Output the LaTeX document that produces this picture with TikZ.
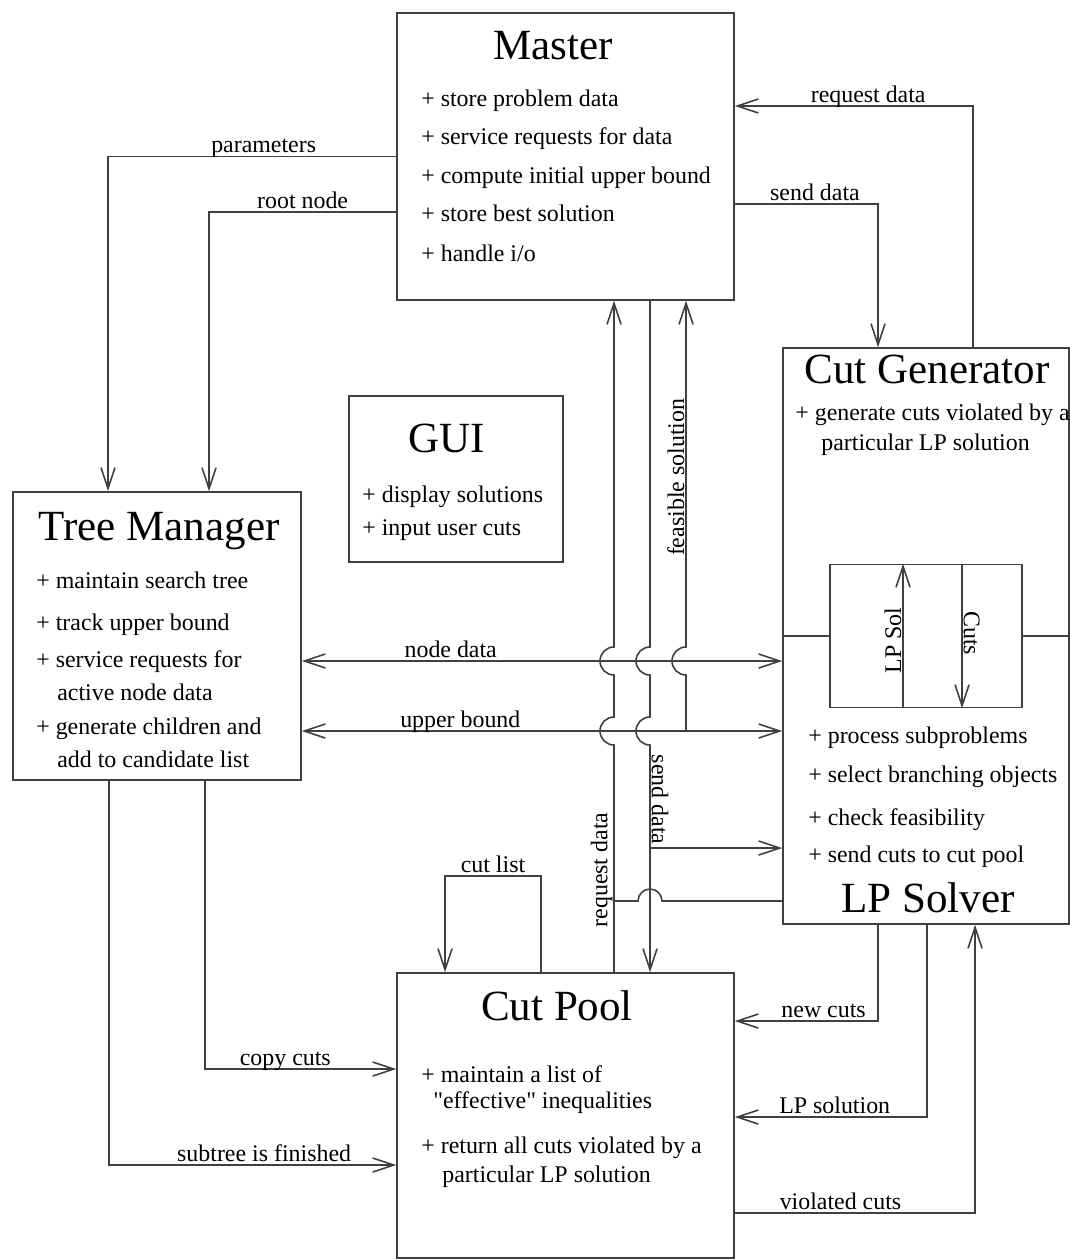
\documentclass[tikz,border=0pt]{standalone}
\usepackage{fontspec}
\setmainfont{Liberation Serif}[Ligatures=TeXOff]
\usetikzlibrary{arrows.meta}

\tikzset{
  box/.style={draw=black!75, line width=0.9pt, inner sep=0pt},
  title/.style={font=\fontsize{24.5}{28}\selectfont, anchor=base},
  item/.style={font=\fontsize{13.6}{16}\selectfont, anchor=base west, inner sep=0pt},
  lbl/.style={font=\fontsize{13.6}{16}\selectfont, inner sep=0pt, anchor=base, yshift=2pt},
  vlbl/.style={font=\fontsize{13.6}{16}\selectfont, inner sep=0.5pt, anchor=south},
  line/.style={draw=black!75, line width=0.9pt},
  flow/.style={line, ->},
  >={Straight Barb[length=12pt,width=8pt]}
}

\begin{document}
\begin{tikzpicture}[x=0.02cm, y=-0.02cm]
        \useasboundingbox (0,0) rectangle (1070,1260);

        % boxes
        \node[box, minimum width=6.74cm, minimum height=5.74cm] (master) at (565.5,156.5) {};
        \node[box, minimum width=4.28cm, minimum height=3.32cm] (gui) at (456,479) {};
        \node[box, minimum width=5.76cm, minimum height=5.76cm] (tm) at (157,636) {};
        \node[box, minimum width=5.72cm, minimum height=11.52cm] (cg) at (926,636) {};
        \node[box, minimum width=3.84cm, minimum height=2.86cm] (inner) at (926,636) {};
        \node[box, minimum width=6.74cm, minimum height=5.70cm] (cp) at (565.5,1115.5) {};

        % titles
        \node[title] (mastert) at (553,60) {Master};
        \node[title] (guit) at (447,452) {GUI};
        \node[title] (tmt) at (159,540) {Tree Manager};
        \node[title] (cgt) at (927,383) {Cut Generator};
        \node[title] (lpt) at (928,912) {LP Solver};
        \node[title] (cpt) at (557,1020) {Cut Pool};

        % box contents
        \foreach \y/\t [count=\i] in {107/{+ store problem data}, 145/{+ service requests for data},
            184/{+ compute initial upper bound}, 222/{+ store best solution}, 262/{+ handle i/o}}
          \node[item] (m\i) at (421,\y) {\t};
        \foreach \y/\t [count=\i] in {502/{+ display solutions}, 535/{+ input user cuts}}
          \node[item] (g\i) at (362,\y) {\t};
        \foreach \x/\y/\t [count=\i] in {36/588/{+ maintain search tree}, 36/630/{+ track upper bound},
            36/667/{+ service requests for}, 57/700/{active node data},
            36/734/{+ generate children and}, 57/767/{add to candidate list}}
          \node[item] (t\i) at (\x,\y) {\t};
        \node[item] (c1) at (795,420) {+ generate cuts violated by a};
        \node[item] (c2) at (821,450) {particular LP solution};
        \foreach \y/\t [count=\i] in {743/{+ process subproblems}, 782/{+ select branching objects},
            825/{+ check feasibility}, 862/{+ send cuts to cut pool}}
          \node[item] (l\i) at (808,\y) {\t};
        \foreach \x/\y/\t [count=\i] in {421/1082/{+ maintain a list of}, 433/1108/{"effective" inequalities},
            421/1153/{+ return all cuts violated by a}, 442/1182/{particular LP solution}}
          \node[item] (p\i) at (\x,\y) {\t};

        % inside the LP solver
        \draw[line] (cg.west |- inner.west) -- (inner.west);
        \draw[line] (inner.east) -- (cg.east |- inner.east);
        \draw[flow] (inner.south -| 903,0) -- node[vlbl, pos=.47, rotate=90] {LP Sol} (inner.north -| 903,0);
        \draw[flow] (inner.north -| 962,0) -- node[vlbl, pos=.48, rotate=-90] {Cuts} (inner.south -| 962,0);

        % master links
        \draw[flow] (master.west) -| node[lbl, pos=.23] {parameters} (tm.north -| 108,0);
        \draw[flow] (master.west |- 0,212) -| node[lbl, pos=.25] {root node} (tm.north -| 209,0);
        \draw[flow] (cg.north -| 973,0) |- node[lbl, pos=.72] {request data} (master.east |- 0,106);
        \draw[flow] (master.east |- 0,204) -| node[lbl, pos=.28] {send data} (cg.north -| 878,0);

        % tree manager <-> LP solver
        \draw[line, <->] (tm.east |- 0,661) -- node[lbl, pos=.31] {node data} (cg.west |- 0,661);
        \draw[line, <->] (tm.east |- 0,731) -- node[lbl, pos=.33] {upper bound} (cg.west |- 0,731);

        % vertical links with hops
        \coordinate (fs) at (686,731);
        \draw[flow] (fs) -- (686,675) arc[start angle=90, end angle=270, radius=14]
          -- node[vlbl, pos=.49, rotate=90] {feasible solution} (master.south -| 686,0);
        \draw[flow] (cp.north -| 614,0) -- node[vlbl, pos=.45, rotate=90] {request data} (614,745)
          arc[start angle=90, end angle=270, radius=14] -- (614,675)
          arc[start angle=90, end angle=270, radius=14] -- (master.south -| 614,0);
        \draw[flow] (master.south -| 650,0) -- (650,647) arc[start angle=270, end angle=90, radius=14]
          -- (650,717) arc[start angle=270, end angle=90, radius=14]
          -- node[vlbl, pos=.24, rotate=-90] {send data} (cp.north -| 650,0);
        \coordinate (sd) at (650,848);
        \draw[flow] (sd) -- (cg.west |- sd);
        \coordinate (rq) at (614,901);
        \draw[line] (cg.west |- rq) -- (662,901) arc[start angle=0, end angle=-180, radius=12] -- (rq);

        % cut pool links
        \draw[flow] (cp.north -| 541,0) -- ++(0,-96) -| node[lbl, pos=.25] {cut list} (cp.north -| 445,0);
        \draw[flow] (tm.south -| 205,0) |- node[lbl, pos=.71] {copy cuts} (cp.west |- 0,1069);
        \draw[flow] (tm.south -| 109,0) |- node[lbl, pos=.77] {subtree is finished} (cp.west |- 0,1165);
        \draw[flow] (cg.south -| 878,0) |- node[lbl, pos=.69] {new cuts} (cp.east |- 0,1021);
        \draw[flow] (cg.south -| 927,0) |- node[lbl, pos=.74] {LP solution} (cp.east |- 0,1117);
        \draw[flow] (cp.east |- 0,1213) -| node[lbl, pos=.22] {violated cuts} (cg.south -| 975,0);
\end{tikzpicture}
\end{document}
